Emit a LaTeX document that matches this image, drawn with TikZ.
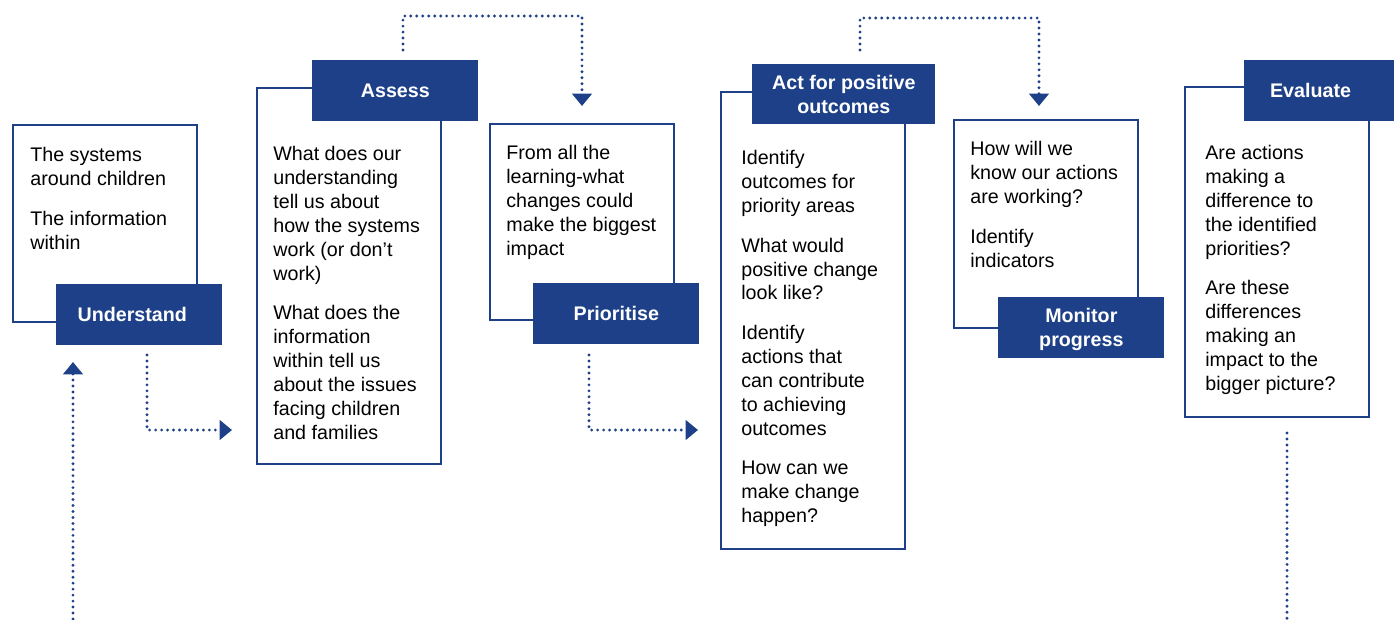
\documentclass[tikz,border=0pt]{standalone}
\usepackage{fontspec}
\setmainfont{Liberation Sans}
\usetikzlibrary{arrows.meta}
\definecolor{cycleblue}{HTML}{1D4088}

\begin{document}
\begin{tikzpicture}[x=0.02cm, y=-0.02cm,
    panel/.style={draw=cycleblue, line width=1.2pt, fill=white, anchor=north west, minimum width=3.68cm, inner sep=0pt},
    tag/.style={fill=cycleblue, text=white, anchor=north west, minimum width=3.32cm, minimum height=1.22cm, align=center, inner sep=0pt, font=\fontsize{11.2}{13.6}\selectfont\bfseries},
    body/.style={anchor=north west, align=left, inner sep=0pt, font=\fontsize{11.2}{13.6}\selectfont},
    link/.style={cycleblue, line width=1.8pt, dash pattern=on 0pt off 3.4pt, line cap=round},
    >={Triangle[width=11pt,length=7pt]}]
    \useasboundingbox (0,0) rectangle (1399,619);

    % boxes
    \node[panel, minimum height=3.94cm] (understandbox) at (12,124) {};
    \node[panel, minimum height=7.52cm] (assessbox) at (256,87) {};
    \node[panel, minimum height=3.92cm] (prioritisebox) at (489,123) {};
    \node[panel, minimum height=9.14cm] (actbox) at (720,91) {};
    \node[panel, minimum height=4.16cm] (monitorbox) at (953,119) {};
    \node[panel, minimum height=6.6cm] (evaluatebox) at (1184,86) {};

    \node[body] (understandtxt) at (30,147) {The systems\\around children\\[9pt]The information\\within};
    \node[body] (assesstxt) at (273,146) {What does our\\understanding\\tell us about\\how the systems\\work (or don’t\\work)\\[9pt]What does the\\information\\within tell us\\about the issues\\facing children\\and families};
    \node[body] (prioritisetxt) at (506,145) {From all the\\learning-what\\changes could\\make the biggest\\impact};
    \node[body] (acttxt) at (741,150) {Identify\\outcomes for\\priority areas\\[9pt]What would\\positive change\\look like?\\[9pt]Identify\\actions that\\can contribute\\to achieving\\outcomes\\[9pt]How can we\\make change\\happen?};
    \node[body] (monitortxt) at (970,141) {How will we\\know our actions\\are working?\\[9pt]Identify\\indicators};
    \node[body] (evaluatetxt) at (1205,145) {Are actions\\making a\\difference to\\the identified\\priorities?\\[9pt]Are these\\differences\\making an\\impact to the\\bigger picture?};

    % labels
    \node[tag] (understand) at (56,284) {Understand\hspace*{8pt}};
    \node[tag] (assess) at (312,60) {Assess};
    \node[tag] (prioritise) at (533,283) {Prioritise};
    \node[tag, minimum width=3.66cm, minimum height=1.2cm] (act) at (752,64) {Act for positive\\outcomes};
    \node[tag] (monitor) at (998,297) {\rule{0pt}{10pt}Monitor\\progress};
    \node[tag, minimum width=3.0cm] (evaluate) at (1244,60) {Evaluate\hspace*{10pt}};

    % links
    \coordinate (u1) at (147,355); \coordinate (u2) at (232,430);
    \coordinate (a1) at (403,50); \coordinate (a2) at (403,16); \coordinate (a3) at (582,106);
    \coordinate (p1) at (589,355); \coordinate (p2) at (698,430);
    \coordinate (o1) at (860,50); \coordinate (o2) at (860,18); \coordinate (o3) at (1039,106);
    \coordinate (e1) at (1287,433); \coordinate (e2) at (1287,619);
    \coordinate (r1) at (73,619); \coordinate (r2) at (73,362);
    \draw[link, ->] (u1) |- (u2);
    \draw[link, ->] (a1) -- (a2) -| (a3);
    \draw[link, ->] (p1) |- (p2);
    \draw[link, ->] (o1) -- (o2) -| (o3);
    \draw[link] (e1) -- (e2);
    \draw[link, ->] (r1) -- (r2);
\end{tikzpicture}
\end{document}
